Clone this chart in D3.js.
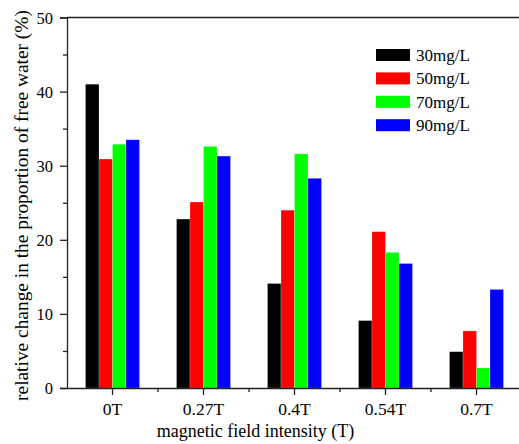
<!DOCTYPE html>
<html>
<head>
<meta charset="utf-8">
<script src="https://cdn.jsdelivr.net/npm/d3@7"></script>
<style>
  html, body { margin: 0; padding: 0; background: #fff; }
  svg text { font-family: "Times New Roman", Times, serif; fill: #000; }
</style>
</head>
<body>
<svg id="chart" width="519" height="444"></svg>
<script>
const categories = ["0T", "0.27T", "0.4T", "0.54T", "0.7T"];
const seriesNames = ["30mg/L", "50mg/L", "70mg/L", "90mg/L"];
const seriesColors = ["#000000", "#ff0000", "#00ff00", "#0000ff"];
const s30 = [41.0, 22.8, 14.1, 9.1, 4.9];
const s50 = [30.9, 25.1, 24.0, 21.1, 7.7];
const s70 = [32.9, 32.6, 31.6, 18.3, 2.7];
const s90 = [33.5, 31.3, 28.3, 16.8, 13.3];
const seriesValues = [s30, s50, s70, s90];
const yTicks = [0, 10, 20, 30, 40, 50];
const yMinorTicks = [5, 15, 25, 35, 45];

const svg = d3.select("#chart");
const plotLeft = 67, plotRight = 522, plotTop = 17.5, plotBottom = 388;
const fontStack = '"Times New Roman", Times, serif';

const x = d3.scaleBand().domain(categories).range([plotLeft, plotRight])
  .paddingInner(0.407).paddingOuter(0.2035);
const xs = d3.scaleBand().domain(seriesNames).range([0, x.bandwidth()]).padding(0);
const y = d3.scaleLinear().domain([0, 50]).range([plotBottom, plotTop]);

// bars
categories.forEach((c, ci) => {
  const g = svg.append("g").attr("transform", `translate(${x(c)},0)`);
  seriesNames.forEach((s, si) => {
    const v = seriesValues[si][ci];
    g.append("rect")
      .attr("x", xs(s))
      .attr("y", y(v))
      .attr("width", xs.bandwidth())
      .attr("height", y(0) - y(v))
      .attr("fill", seriesColors[si])
      .attr("stroke", "#ffffff")
      .attr("stroke-opacity", 0.35)
      .attr("stroke-width", 0.6);
  });
});

const axisColor = "#222";
// top frame line
svg.append("line").attr("x1", plotLeft).attr("x2", plotRight).attr("y1", plotTop).attr("y2", plotTop)
  .attr("stroke", axisColor).attr("stroke-width", 1.3);

// y axis
const yAxis = d3.axisLeft(y).tickValues(yTicks).tickSize(7).tickPadding(7).tickFormat(d3.format("d"));
const yg = svg.append("g").attr("transform", `translate(${plotLeft},0)`).call(yAxis)
  .attr("font-family", fontStack);
yg.select(".domain").attr("stroke", axisColor).attr("stroke-width", 1.3);
yg.selectAll(".tick line").attr("stroke", axisColor).attr("stroke-width", 1.3);
yg.selectAll(".tick text").style("font-size", "16.5px").attr("dy", "0.34em");
const ygm = svg.append("g").attr("transform", `translate(${plotLeft},0)`)
  .call(d3.axisLeft(y).tickValues(yMinorTicks).tickSize(4).tickFormat(""));
ygm.select(".domain").remove();
ygm.selectAll(".tick line").attr("stroke", axisColor).attr("stroke-width", 1.3);

// x axis
const xAxis = d3.axisBottom(x).tickSize(7).tickPadding(8).tickSizeOuter(0);
const xg = svg.append("g").attr("transform", `translate(0,${plotBottom})`).call(xAxis)
  .attr("font-family", fontStack);
xg.select(".domain").attr("stroke", axisColor).attr("stroke-width", 1.3);
xg.selectAll(".tick line").attr("stroke", axisColor).attr("stroke-width", 1.3);
xg.selectAll(".tick text").style("font-size", "17.5px").attr("dy", "0.68em");
// minor x ticks between categories
const minorX = categories.slice(0, -1).map(c => x(c) + x.bandwidth() / 2 + x.step() / 2);
svg.append("g").selectAll("line").data(minorX).join("line")
  .attr("x1", d => d).attr("x2", d => d).attr("y1", plotBottom).attr("y2", plotBottom + 4)
  .attr("stroke", axisColor).attr("stroke-width", 1.3);

// axis titles
svg.append("text").attr("x", 255.5).attr("y", 437).attr("text-anchor", "middle")
  .style("font-size", "18px").text("magnetic field intensity (T)");
svg.append("text").attr("transform", "translate(28,205.5) rotate(-90)").attr("text-anchor", "middle")
  .style("font-size", "19.4px").text("relative change in the proportion of free water (%)");

// legend
const lg = svg.append("g").attr("transform", "translate(376,49)");
seriesNames.forEach((s, i) => {
  lg.append("rect").attr("x", 0).attr("y", i * 23.4).attr("width", 34).attr("height", 12)
    .attr("fill", seriesColors[i]);
  lg.append("text").attr("x", 40).attr("y", i * 23.4 + 12).style("font-size", "17px").text(s);
});
</script>
</body>
</html>
